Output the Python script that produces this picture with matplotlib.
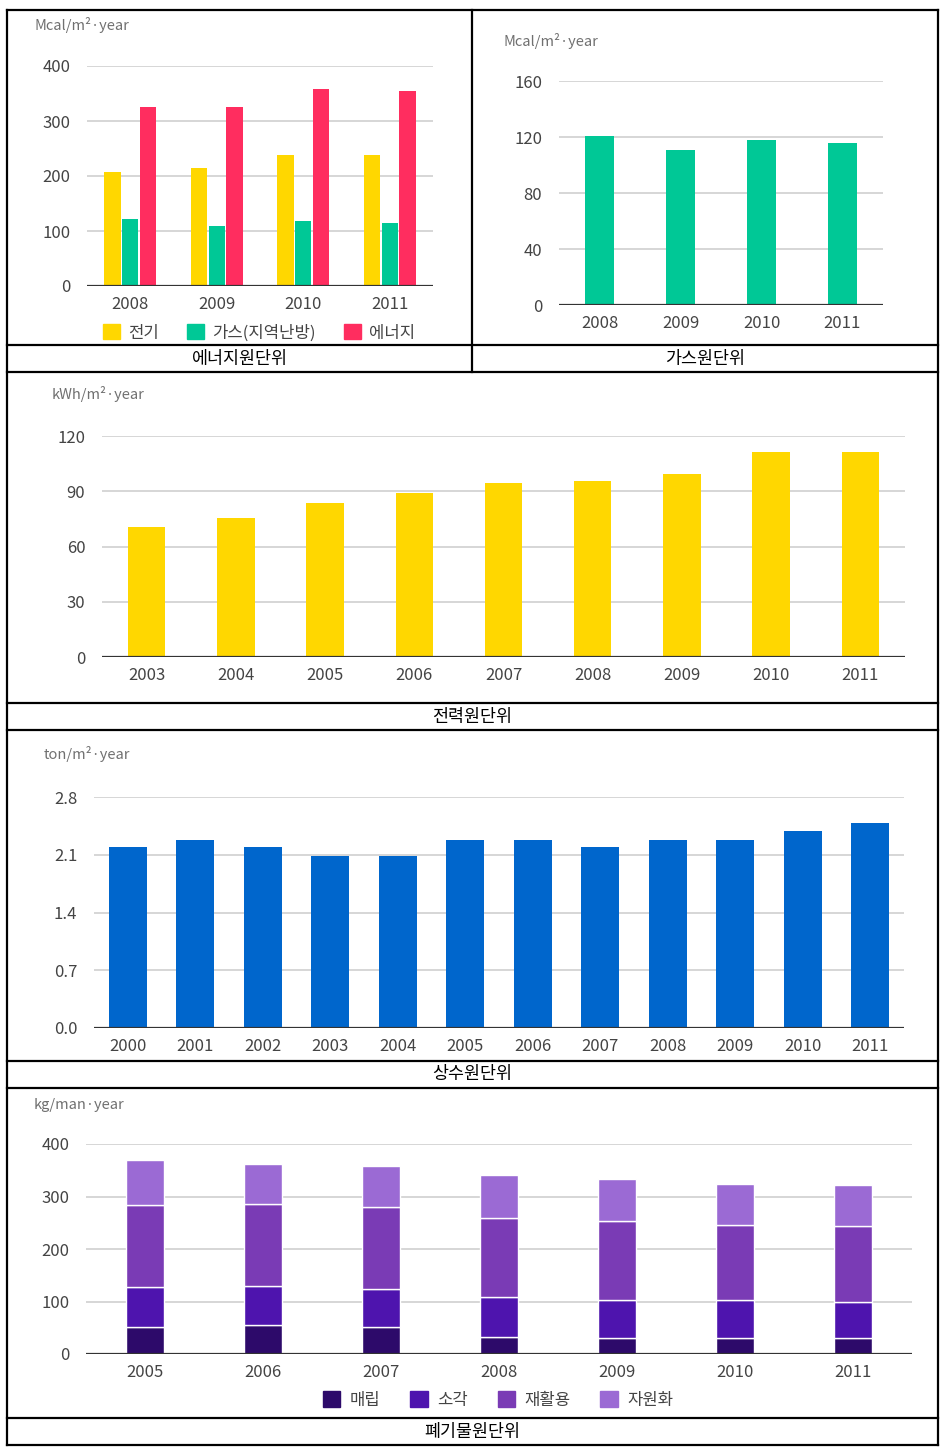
import matplotlib
matplotlib.use("Agg")
import matplotlib.pyplot as plt
from matplotlib.lines import Line2D
from matplotlib.patches import Patch

plt.rcParams['font.family'] = ['Noto Sans CJK KR', 'DejaVu Sans']

# ---------------- data ----------------
energy_years = ['2008', '2009', '2010', '2011']
energy_elec = [207, 214, 238, 238]
energy_gas = [121, 110, 118, 115]
energy_total = [326, 326, 358, 355]
energy_series = ['전기', '가스(지역난방)', '에너지']

gas_years = ['2008', '2009', '2010', '2011']
gas_values = [121, 111, 118, 116]

elec_years = ['2003', '2004', '2005', '2006', '2007', '2008', '2009', '2010', '2011']
elec_values = [70.6, 75.3, 83.8, 89.2, 94.7, 95.5, 99.3, 111.1, 111.1]

water_years = ['2000', '2001', '2002', '2003', '2004', '2005', '2006',
               '2007', '2008', '2009', '2010', '2011']
water_values = [2.19, 2.28, 2.19, 2.08, 2.08, 2.28, 2.28, 2.19, 2.28, 2.28, 2.39, 2.48]

waste_years = ['2005', '2006', '2007', '2008', '2009', '2010', '2011']
waste_landfill = [51, 56, 51, 33, 30, 30, 30]
waste_incin = [76, 73, 73, 76, 73, 73, 70]
waste_recycle = [156, 157, 156, 150, 151, 143, 144]
waste_resource = [87, 76, 79, 82, 79, 77, 77]
waste_series = ['매립', '소각', '재활용', '자원화']

captions = ['에너지원단위', '가스원단위', '전력원단위', '상수원단위', '폐기물원단위']
units = ['Mcal/m²·year', 'Mcal/m²·year', 'kWh/m²·year', 'ton/m²·year', 'kg/man·year']

# ---------------- style ----------------
YELLOW = '#FFD700'
GREEN = '#00C896'
RED = '#FF2D5F'
BLUE = '#0066CC'
PURPLES = ['#2D0A6A', '#4E14AE', '#7A3BB5', '#9B6AD4']
GRID = '#D0D0D0'
BASE = '#333333'
TXT = '#444444'

W, H = 948, 1454
fig = plt.figure(figsize=(W / 100, H / 100), dpi=100)
fig.patch.set_facecolor('white')


def fx(x):
    return x / W


def fy(y):
    return 1 - y / H


def make_ax(left, top, right, bottom):
    ax = fig.add_axes([fx(left), fy(bottom), fx(right) - fx(left), (bottom - top) / H])
    for s in ax.spines.values():
        s.set_visible(False)
    ax.set_axisbelow(True)
    ax.yaxis.grid(True, color=GRID, linewidth=1.2)
    ax.tick_params(axis='both', length=0, labelsize=12, labelcolor=TXT)
    ax.tick_params(axis='y', pad=12)
    ax.tick_params(axis='x', pad=7)
    ax.axhline(0, color=BASE, linewidth=1.6, zorder=5)
    return ax


def unit_label(x, y, s):
    fig.text(fx(x), fy(y), s, ha='left', va='center', fontsize=10.5, color='#707070')


# ---------------- chart 1: energy ----------------
ax1 = make_ax(87, 66, 433, 286)
xs = range(len(energy_years))
bw = 0.19
off = 0.205
for vals, col, k in zip([energy_elec, energy_gas, energy_total], [YELLOW, GREEN, RED], [-1, 0, 1]):
    ax1.bar([x + k * off for x in xs], vals, width=bw, color=col, zorder=3)
ax1.set_xlim(-0.5, len(energy_years) - 0.5)
ax1.set_ylim(0, 400)
ax1.set_yticks([0, 100, 200, 300, 400])
ax1.set_xticks(list(xs))
ax1.set_xticklabels(energy_years)
unit_label(35, 25, units[0])
h1 = [Patch(color=c) for c in [YELLOW, GREEN, RED]]
fig.legend(h1, energy_series, loc='center', bbox_to_anchor=(fx(259), fy(333)),
           ncol=3, frameon=False, fontsize=12, handlelength=1.0, handleheight=1.0,
           handletextpad=0.5, columnspacing=1.7, labelcolor=TXT)

# ---------------- chart 2: gas ----------------
ax2 = make_ax(559, 81, 883, 305)
xs = range(len(gas_years))
ax2.bar(list(xs), gas_values, width=0.37, color=GREEN, zorder=3)
ax2.set_xlim(-0.5, len(gas_years) - 0.5)
ax2.set_ylim(0, 160)
ax2.set_yticks([0, 40, 80, 120, 160])
ax2.set_xticks(list(xs))
ax2.set_xticklabels(gas_years)
unit_label(504, 41, units[1])

# ---------------- chart 3: electricity ----------------
ax3 = make_ax(102, 436, 905, 657)
xs = range(len(elec_years))
ax3.bar(list(xs), elec_values, width=0.42, color=YELLOW, zorder=3)
ax3.set_xlim(-0.5, len(elec_years) - 0.5)
ax3.set_ylim(0, 120)
ax3.set_yticks([0, 30, 60, 90, 120])
ax3.set_xticks(list(xs))
ax3.set_xticklabels(elec_years)
unit_label(52, 394, units[2])

# ---------------- chart 4: water ----------------
ax4 = make_ax(94, 797, 904, 1028)
xs = range(len(water_years))
ax4.bar(list(xs), water_values, width=0.56, color=BLUE, zorder=3)
ax4.set_xlim(-0.5, len(water_years) - 0.5)
ax4.set_ylim(0, 2.8)
ax4.set_yticks([0, 0.7, 1.4, 2.1, 2.8])
ax4.set_yticklabels(['0.0', '0.7', '1.4', '2.1', '2.8'])
ax4.set_xticks(list(xs))
ax4.set_xticklabels(water_years)
unit_label(44, 754, units[3])

# ---------------- chart 5: waste ----------------
ax5 = make_ax(86, 1144, 912, 1354)
xs = list(range(len(waste_years)))
bottom = [0] * len(waste_years)
for vals, col in zip([waste_landfill, waste_incin, waste_recycle, waste_resource], PURPLES):
    ax5.bar(xs, vals, width=0.32, bottom=bottom, color=col, edgecolor='white',
            linewidth=1.0, zorder=3)
    bottom = [b + v for b, v in zip(bottom, vals)]
ax5.set_xlim(-0.5, len(waste_years) - 0.5)
ax5.set_ylim(0, 400)
ax5.set_yticks([0, 100, 200, 300, 400])
ax5.set_xticks(xs)
ax5.set_xticklabels(waste_years)
unit_label(34, 1105, units[4])
h5 = [Patch(color=c) for c in PURPLES]
fig.legend(h5, waste_series, loc='center', bbox_to_anchor=(fx(498), fy(1400)),
           ncol=4, frameon=False, fontsize=12, handlelength=1.05, handleheight=1.05,
           handletextpad=0.55, columnspacing=1.8, labelcolor=TXT)

# ---------------- table frame ----------------
L, R = 7, 938
lw = 1.6


def hline(y, x0=L, x1=R):
    fig.add_artist(Line2D([fx(x0), fx(x1)], [fy(y), fy(y)], color='black', linewidth=lw))


def vline(x, y0, y1):
    fig.add_artist(Line2D([fx(x), fx(x)], [fy(y0), fy(y1)], color='black', linewidth=lw))


for y in [10, 345, 372, 703, 730, 1061, 1088, 1418, 1445]:
    hline(y)
vline(L, 10, 1445)
vline(R, 10, 1445)
vline(472, 10, 372)

cap_pos = [(240, 359), (705, 359), (472, 717), (472, 1074), (472, 1432)]
for (cx, cy), c in zip(cap_pos, captions):
    fig.text(fx(cx), fy(cy), c, ha='center', va='center', fontsize=12.5, color='black')

fig.savefig('out.png', dpi=100, facecolor='white')
